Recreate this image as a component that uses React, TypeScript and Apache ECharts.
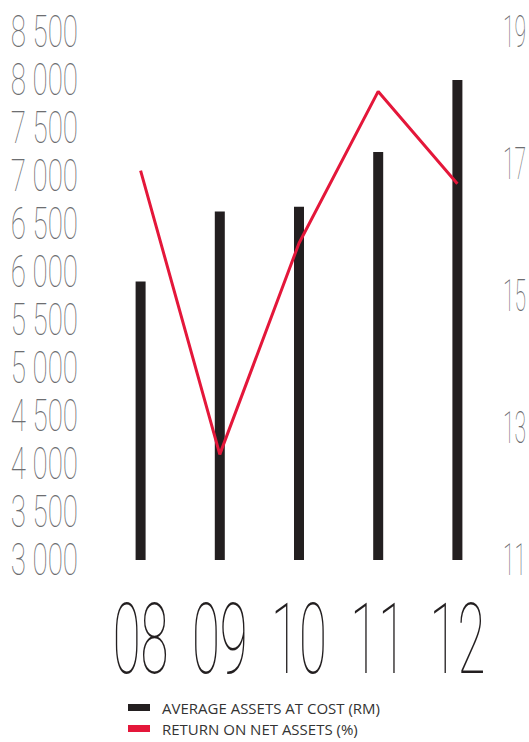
import React, { useEffect, useRef } from "react";
import * as echarts from "echarts";

const years = ["08", "09", "10", "11", "12"];
const avgAssets = [5900, 6630, 6680, 7250, 8000];
const returnOnNetAssets = [16.9, 12.6, 15.8, 18.1, 16.7];
const leftTickValues = [3000, 3500, 4000, 4500, 5000, 5500, 6000, 6500, 7000, 7500, 8000, 8500];
const leftTickLabels = ["3 000", "3 500", "4 000", "4 500", "5 000", "5 500", "6 000", "6 500", "7 000", "7 500", "8 000", "8 500"];
const rightTickValues = [11, 13, 15, 17, 19];
const rightTickLabels = ["11", "13", "15", "17", "19"];
const seriesNames = ["AVERAGE ASSETS AT COST (RM)", "RETURN ON NET ASSETS (%)"];

const FONT = "Roboto, Lato, 'Liberation Sans', sans-serif";
const LEGEND_FONT = "'Open Sans', Roboto, sans-serif";
const BAR = "#231f20";
const RED = "#e4173a";
const GRID_LEFT = 101;
const GRID_RIGHT = 32;

export default function App() {
  const ref = useRef<HTMLDivElement>(null);
  useEffect(() => {
    if (!ref.current) return;
    const chart = echarts.init(ref.current, null, { renderer: "svg" });
    chart.setOption({
      animation: false,
      backgroundColor: "#ffffff",
      grid: { left: GRID_LEFT, right: GRID_RIGHT, top: 32, bottom: 182 },
      legend: {
        orient: "vertical",
        left: 128,
        top: 700,
        padding: 0,
        itemWidth: 22,
        itemHeight: 7,
        itemGap: 6,
        icon: "rect",
        textStyle: {
          fontFamily: LEGEND_FONT,
          fontSize: 15,
          lineHeight: 15,
          fontWeight: 400,
          color: "#333333",
          padding: [0, 0, 0, 7],
        },
        data: seriesNames,
      },
      xAxis: {
        type: "category",
        data: years,
        axisLine: { show: false },
        axisTick: { show: false },
        axisLabel: { show: false },
      },
      yAxis: [
        {
          type: "value",
          min: leftTickValues[0],
          max: leftTickValues[leftTickValues.length - 1],
          interval: 500,
          splitLine: { show: false },
          axisLine: { show: false },
          axisTick: { show: false },
          axisLabel: { show: false },
        },
        {
          type: "value",
          min: rightTickValues[0],
          max: rightTickValues[rightTickValues.length - 1],
          interval: 2,
          position: "right",
          splitLine: { show: false },
          axisLine: { show: false },
          axisTick: { show: false },
          axisLabel: { show: false },
        },
      ],
      series: [
        {
          name: seriesNames[0],
          type: "bar",
          data: avgAssets,
          barWidth: 10,
          itemStyle: { color: BAR },
          yAxisIndex: 0,
        },
        {
          name: seriesNames[1],
          type: "line",
          data: returnOnNetAssets,
          yAxisIndex: 1,
          symbol: "none",
          lineStyle: { color: RED, width: 3 },
          itemStyle: { color: RED },
        },
      ],
    });

    const elements: any[] = [];
    leftTickValues.forEach((v, i) => {
      const y = chart.convertToPixel({ yAxisIndex: 0 }, v) as number;
      elements.push({
        type: "text",
        x: 78,
        y,
        scaleX: 0.63,
        style: {
          text: leftTickLabels[i],
          fontFamily: FONT,
          fontSize: 44,
          fontWeight: 100,
          fill: "#6d6e71",
          align: "right",
          verticalAlign: "middle",
        },
      });
    });
    rightTickValues.forEach((v, i) => {
      const y = chart.convertToPixel({ yAxisIndex: 1 }, v) as number;
      elements.push({
        type: "text",
        x: 503,
        y,
        scaleX: 0.48,
        style: {
          text: rightTickLabels[i],
          fontFamily: FONT,
          fontSize: 44,
          fontWeight: 100,
          fill: "#6d6e71",
          align: "left",
          verticalAlign: "middle",
        },
      });
    });
    years.forEach((yr, i) => {
      const x = chart.convertToPixel({ xAxisIndex: 0 }, i) as number;
      elements.push({
        type: "text",
        x,
        y: 640,
        scaleX: 0.52,
        style: {
          text: yr,
          fontFamily: FONT,
          fontSize: 98,
          fontWeight: 100,
          fill: BAR,
          align: "center",
          verticalAlign: "middle",
        },
      });
    });
    chart.setOption({ graphic: { elements } });
    return () => chart.dispose();
  }, []);
  return <div ref={ref} style={{ width: 529, height: 742, position: "absolute", left: 0, top: 0 }} />;
}
